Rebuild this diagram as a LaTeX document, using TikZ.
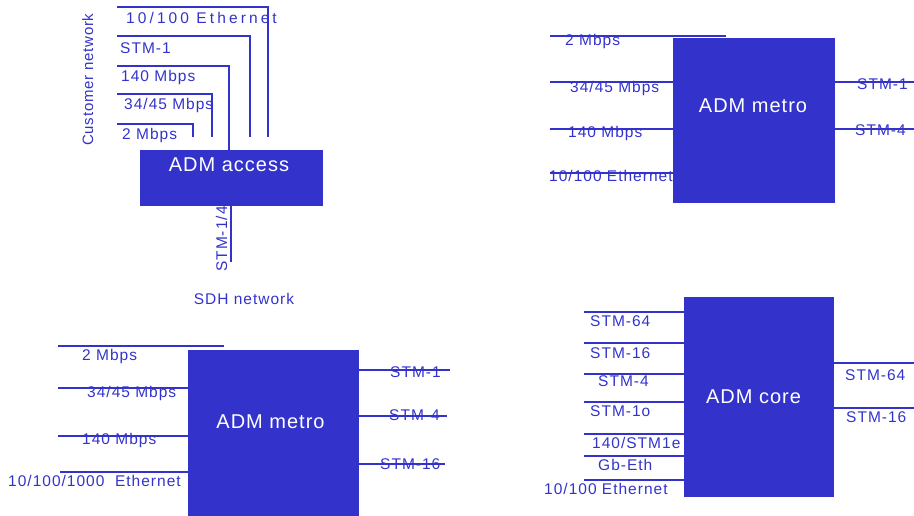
\documentclass[tikz,border=0pt]{standalone}
\usepackage{fontspec}
\setmainfont{Liberation Sans}
\newfontfamily\portfont[LetterSpace=6.5]{Liberation Sans}
\newfontfamily\wideportfont[LetterSpace=20]{Liberation Sans}
\newfontfamily\admfont[LetterSpace=5]{Liberation Sans}
\usetikzlibrary{positioning}
\definecolor{admblue}{RGB}{51,51,204}

\begin{document}
\begin{tikzpicture}[
  x=1pt, y=-1pt,
  adm/.style={rectangle, fill=admblue, draw=none, inner sep=0pt},
  admtext/.style={font=\admfont\fontsize{20}{24}\selectfont, text=white, inner sep=0pt, anchor=base},
  port/.style={font=\portfont\fontsize{15.5}{18}\selectfont, text=admblue, inner sep=0pt, anchor=base west},
  wire/.style={admblue, line width=2pt}
]
\useasboundingbox (0,0) rectangle (914,516);

% === ADM access (top left) ===
\coordinate (aEth) at (117,7);   \coordinate (aEthEnd) at (268,137);
\coordinate (aStm) at (117,36);  \coordinate (aStmEnd) at (250,137);
\coordinate (a140) at (117,66);  \coordinate (a140End) at (229,150);
\coordinate (a34)  at (117,94);  \coordinate (a34End)  at (212,137);
\coordinate (a2)   at (117,124); \coordinate (a2End)   at (193,137);
\draw[wire] (aEth) -| (aEthEnd);
\draw[wire] (aStm) -| (aStmEnd);
\draw[wire] (a140) -| (a140End);
\draw[wire] (a34) -| (a34End);
\draw[wire] (a2) -| (a2End);

\node[adm, minimum width=183pt, minimum height=56pt] (access) at (231.5,178) {};
\node[admtext] (accessT) at (229,172) {ADM access};

\node[port, font=\wideportfont\fontsize{15.5}{18}\selectfont] (lEth) at (126,24) {10/100 Ethernet};
\node[port] (lStm) at (120,54) {STM-1};
\node[port] (l140) at (121,82) {140 Mbps};
\node[port] (l34)  at (124,110) {34/45 Mbps};
\node[port] (l2)   at (122,140) {2 Mbps};
\node[port, rotate=90, font=\admfont\fontsize{15}{18}\selectfont] (cust) at (93,146) {Customer network};

\coordinate (aSdh) at (231,262);
\draw[wire] (access.south -| aSdh) -- (aSdh);
\node[port, rotate=90] (lSdh) at (227,272) {STM-1/4};
\node[port, anchor=base] (sdh) at (244,304) {SDH network};

% === ADM metro (top right) ===
\node[adm, minimum width=162pt, minimum height=165pt] (metroA) at (754,120.5) {};
\coordinate (m2)   at (550,36);  \coordinate (m2End) at (726,36);
\coordinate (m34)  at (550,82);
\coordinate (m140) at (550,129);
\coordinate (mEth) at (550,173);
\coordinate (mS1)  at (914,82);
\coordinate (mS4)  at (914,129);
\draw[wire] (m2) -- (m2End);
\draw[wire] (m34) -- (m34 -| metroA.west);
\draw[wire] (m140) -- (m140 -| metroA.west);
\draw[wire] (mEth) -- (mEth -| metroA.west);
\draw[wire] (mS1 -| metroA.east) -- (mS1);
\draw[wire] (mS4 -| metroA.east) -- (mS4);
\node[admtext] (metroAT) at (753,113) {ADM metro};

\node[port] (ml2)   at (565,46) {2 Mbps};
\node[port] (ml34)  at (570,92.5) {34/45 Mbps};
\node[port] (ml140) at (568,138) {140 Mbps};
\node[port] (mlEth) at (549,182) {10/100 Ethernet};
\node[port] (mlS1)  at (857,90) {STM-1};
\node[port] (mlS4)  at (855,136) {STM-4};

% === ADM metro (bottom left) ===
\node[adm, minimum width=171pt, minimum height=166pt] (metroB) at (273.5,433) {};
\coordinate (n2)   at (58,346);  \coordinate (n2End) at (224,346);
\coordinate (n34)  at (58,388);
\coordinate (n140) at (58,436);
\coordinate (nEth) at (60,472);
\coordinate (nS1)  at (450,370);
\coordinate (nS4)  at (447,416);
\coordinate (nS16) at (445,464);
\draw[wire] (n2) -- (n2End);
\draw[wire] (n34) -- (n34 -| metroB.west);
\draw[wire] (n140) -- (n140 -| metroB.west);
\draw[wire] (nEth) -- (nEth -| metroB.west);
\draw[wire] (nS1 -| metroB.east) -- (nS1);
\draw[wire] (nS4 -| metroB.east) -- (nS4);
\draw[wire] (nS16 -| metroB.east) -- (nS16);
\node[admtext] (metroBT) at (270.5,428) {ADM metro};

\node[port] (nl2)   at (82,360) {2 Mbps};
\node[port] (nl34)  at (87,397) {34/45 Mbps};
\node[port] (nl140) at (82,444) {140 Mbps};
\node[port] (nlEth) at (8,486) {10/100/1000\ \ Ethernet};
\node[port] (nlS1)  at (390,377) {STM-1};
\node[port] (nlS4)  at (389,420) {STM-4};
\node[port] (nlS16) at (380,469) {STM-16};

% === ADM core (bottom right) ===
\node[adm, minimum width=150pt, minimum height=200pt] (core) at (759,397) {};
\coordinate (k64)  at (584,312);
\coordinate (k16)  at (584,343);
\coordinate (k4)   at (584,374);
\coordinate (k1o)  at (584,402);
\coordinate (k1e)  at (584,434);
\coordinate (kGb)  at (584,456);
\coordinate (kEth) at (584,480);
\coordinate (kR64) at (914,363);
\coordinate (kR16) at (914,408);
\draw[wire] (k64) -- (k64 -| core.west);
\draw[wire] (k16) -- (k16 -| core.west);
\draw[wire] (k4) -- (k4 -| core.west);
\draw[wire] (k1o) -- (k1o -| core.west);
\draw[wire] (k1e) -- (k1e -| core.west);
\draw[wire] (kGb) -- (kGb -| core.west);
\draw[wire] (kEth) -- (kEth -| core.west);
\draw[wire] (kR64 -| core.east) -- (kR64);
\draw[wire] (kR16 -| core.east) -- (kR16);
\node[admtext] (coreT) at (753.5,403) {ADM core};

\node[port] (kl64)  at (590,326) {STM-64};
\node[port] (kl16)  at (590,358) {STM-16};
\node[port] (kl4)   at (598,386) {STM-4};
\node[port] (kl1o)  at (590,416) {STM-1o};
\node[port] (kl1e)  at (592,448) {140/STM1e};
\node[port] (klGb)  at (598,470) {Gb-Eth};
\node[port] (klEth) at (544,494) {10/100 Ethernet};
\node[port] (klR64) at (845,380) {STM-64};
\node[port] (klR16) at (846,422) {STM-16};

\end{tikzpicture}
\end{document}
